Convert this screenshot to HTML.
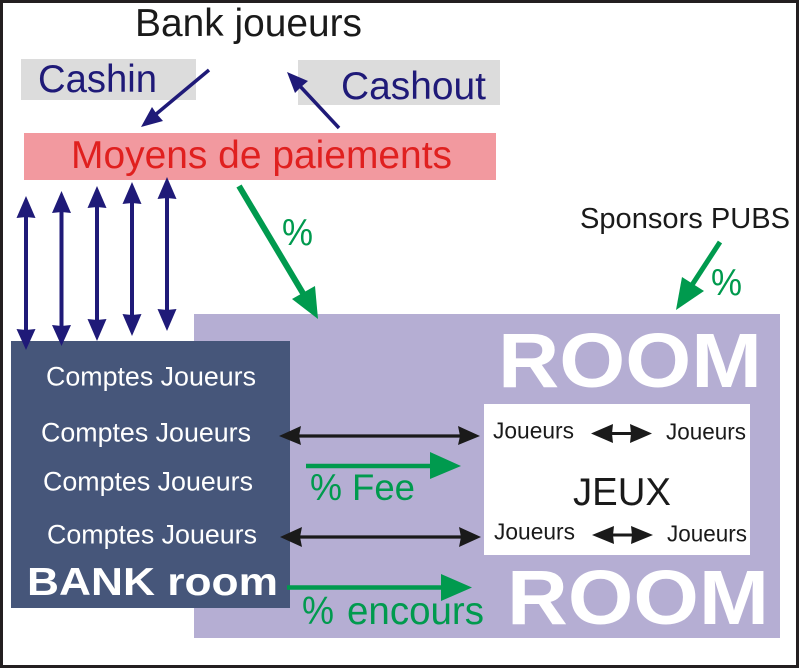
<!DOCTYPE html>
<html>
<head>
<meta charset="utf-8">
<style>
html,body{margin:0;padding:0;background:#fff}
svg{display:block}
text{font-family:"Liberation Sans",sans-serif}
</style>
</head>
<body>
<svg width="800" height="669" viewBox="0 0 800 669" xmlns="http://www.w3.org/2000/svg">
<rect width="800" height="669" fill="#fff"/>
<rect x="1.5" y="1.5" width="796" height="665" fill="none" stroke="#231f20" stroke-width="3"/>

<rect x="21" y="59" width="175" height="41" fill="#dcdcdc"/>
<rect x="298" y="60" width="202" height="45" fill="#dcdcdc"/>
<rect x="24" y="133" width="472" height="47" fill="#f2999f"/>
<rect x="194" y="314" width="586" height="324" fill="#b5aed3"/>
<rect x="11" y="341" width="279" height="267" fill="#46567a"/>
<rect x="484" y="404" width="266" height="151" fill="#fff"/>

<text x="135" y="36" font-size="39" fill="#1a1a1a" textLength="227" lengthAdjust="spacingAndGlyphs">Bank joueurs</text>
<text x="38" y="92" font-size="38.500" fill="#1f1a78" textLength="119" lengthAdjust="spacingAndGlyphs">Cashin</text>
<text x="341" y="99" font-size="39" fill="#1f1a78" textLength="145" lengthAdjust="spacingAndGlyphs">Cashout</text>
<text x="71" y="168" font-size="39" fill="#e0201f" textLength="381" lengthAdjust="spacingAndGlyphs">Moyens de paiements</text>
<text x="580" y="228" font-size="29" fill="#1a1a1a" textLength="210" lengthAdjust="spacingAndGlyphs">Sponsors PUBS</text>
<text x="282" y="245" font-size="38" fill="#009a4e" textLength="31" lengthAdjust="spacingAndGlyphs">%</text>
<text x="711" y="295" font-size="38" fill="#009a4e" textLength="31" lengthAdjust="spacingAndGlyphs">%</text>

<text x="498" y="387" font-size="77" font-weight="bold" fill="#fff" textLength="264" lengthAdjust="spacingAndGlyphs">ROOM</text>
<text x="507" y="624" font-size="77" font-weight="bold" fill="#fff" textLength="262" lengthAdjust="spacingAndGlyphs">ROOM</text>

<text x="46" y="385.500" font-size="26.800" fill="#fff" textLength="210" lengthAdjust="spacingAndGlyphs">Comptes Joueurs</text>
<text x="41" y="441.500" font-size="26.800" fill="#fff" textLength="210" lengthAdjust="spacingAndGlyphs">Comptes Joueurs</text>
<text x="43" y="490.500" font-size="26.800" fill="#fff" textLength="210" lengthAdjust="spacingAndGlyphs">Comptes Joueurs</text>
<text x="47" y="543.500" font-size="26.800" fill="#fff" textLength="210" lengthAdjust="spacingAndGlyphs">Comptes Joueurs</text>
<text x="27" y="595" font-size="39" font-weight="bold" fill="#fff" textLength="251" lengthAdjust="spacingAndGlyphs">BANK room</text>

<text x="493" y="438.500" font-size="22.800" fill="#1a1a1a" textLength="81" lengthAdjust="spacingAndGlyphs">Joueurs</text>
<text x="666" y="439.500" font-size="22.800" fill="#1a1a1a" textLength="80" lengthAdjust="spacingAndGlyphs">Joueurs</text>
<text x="494" y="539.500" font-size="22.800" fill="#1a1a1a" textLength="81" lengthAdjust="spacingAndGlyphs">Joueurs</text>
<text x="667" y="541.500" font-size="22.800" fill="#1a1a1a" textLength="80" lengthAdjust="spacingAndGlyphs">Joueurs</text>
<text x="573" y="505" font-size="38.500" fill="#1a1a1a" textLength="98" lengthAdjust="spacingAndGlyphs">JEUX</text>

<text x="310" y="500" font-size="37" fill="#009a4e" textLength="32" lengthAdjust="spacingAndGlyphs">%</text>
<text x="352" y="500" font-size="37" fill="#009a4e" textLength="63" lengthAdjust="spacingAndGlyphs">Fee</text>
<text x="302" y="624" font-size="38.500" fill="#009a4e" textLength="32" lengthAdjust="spacingAndGlyphs">%</text>
<text x="347" y="624" font-size="38.500" fill="#009a4e" textLength="137" lengthAdjust="spacingAndGlyphs">encours</text>

<!-- navy arrows -->
<g fill="#1f1a78" stroke="#1f1a78">
<line x1="209" y1="70" x2="155" y2="115" stroke-width="3.500"/>
<polygon stroke="none" points="141,127 163,121 156,113 152,107"/>
<line x1="339" y1="128" x2="298" y2="84" stroke-width="3.500"/>
<polygon stroke="none" points="287,72 308,81 301,87 295,93"/>
<g stroke-width="4">
<line x1="26" y1="210" x2="26" y2="335"/>
<line x1="61.500" y1="205" x2="61.500" y2="331"/>
<line x1="97" y1="200" x2="97" y2="326"/>
<line x1="132" y1="196" x2="132" y2="321"/>
<line x1="167" y1="191" x2="167" y2="316"/>
</g>
<g stroke="none">
<polygon points="26,196 35.500,218 26,217 16.500,218"/>
<polygon points="26,350 35.500,329 26,330 16.500,329"/>
<polygon points="61.500,191 71,213 61.500,212 52,213"/>
<polygon points="61.500,346 71,325 61.500,326 52,325"/>
<polygon points="97,186 106.500,208 97,207 87.500,208"/>
<polygon points="97,341 106.500,319 97,320 87.500,319"/>
<polygon points="132,182 141.500,204 132,203 122.500,204"/>
<polygon points="132,336 141.500,314 132,315 122.500,314"/>
<polygon points="167,177 176.500,199 167,198 157.500,199"/>
<polygon points="167,331 176.500,309 167,310 157.500,309"/>
</g>
</g>

<!-- green arrows -->
<g fill="#009a4e" stroke="#009a4e">
<line x1="239" y1="186" x2="304" y2="295" stroke-width="6"/>
<polygon stroke="none" points="318,319 315,286 292,299"/>
<line x1="720" y1="242" x2="692" y2="285" stroke-width="5"/>
<polygon stroke="none" points="676,310 682,277 704,291"/>
<line x1="306" y1="466" x2="435" y2="466" stroke-width="4.500"/>
<polygon stroke="none" points="461,466 430,452 430,479"/>
<line x1="287" y1="587.500" x2="445" y2="587.500" stroke-width="4.500"/>
<polygon stroke="none" points="472,587.500 441,574 441,601"/>
</g>

<!-- black arrows -->
<g fill="#1a1a1a" stroke="#1a1a1a">
<line x1="295" y1="436" x2="465" y2="436" stroke-width="3.200"/>
<polygon stroke="none" points="279,436 301,426 299,436 301,445"/>
<polygon stroke="none" points="480,436 458,426 460,436 458,445"/>
<line x1="296" y1="537" x2="466" y2="537" stroke-width="3.200"/>
<polygon stroke="none" points="280,537 302,527 300,537 302,547"/>
<polygon stroke="none" points="481,537 459,527 461,537 459,547"/>
<line x1="608" y1="433.500" x2="635" y2="433.500" stroke-width="3"/>
<polygon stroke="none" points="591,433.500 613,424 612,433.500 613,443"/>
<polygon stroke="none" points="652,433.500 630,424 631,433.500 630,443"/>
<line x1="609" y1="535" x2="636" y2="535" stroke-width="3"/>
<polygon stroke="none" points="592,535 614,526 613,535 614,544"/>
<polygon stroke="none" points="653,535 631,526 632,535 631,544"/>
</g>
</svg>
</body>
</html>
